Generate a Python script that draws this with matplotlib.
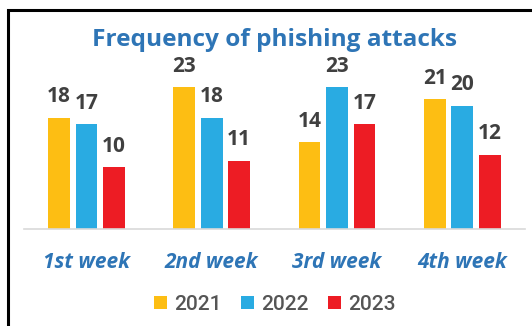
import matplotlib
matplotlib.use("Agg")
import matplotlib.pyplot as plt
from matplotlib.patches import Rectangle
import numpy as np

categories = ["1st week", "2nd week", "3rd week", "4th week"]
series_names = ["2021", "2022", "2023"]
v2021 = [18, 23, 14, 21]
v2022 = [17, 18, 23, 20]
v2023 = [10, 11, 17, 12]
values = [v2021, v2022, v2023]
colors = ["#FDBE13", "#29ABE2", "#ED1C24"]

W, H = 532, 326
fig = plt.figure(figsize=(W / 100, H / 100), dpi=100)
fig.patch.set_facecolor("white")

# outer frame (clipped on right and bottom)
fig.patches.append(Rectangle((7.5 / W, -0.1), 1.2, (H - 9.5) / H + 0.1,
                             transform=fig.transFigure, fill=False,
                             edgecolor="black", linewidth=2.2))

left, right = 23.7 / W, 525 / W
bottom = (H - 228.5) / H
top = (H - 60) / H
ax = fig.add_axes([left, bottom, right - left, top - bottom])
ax.set_xlim(-0.5, 3.5)
ax.set_ylim(0, 168.5 / 6.15)

x = np.arange(len(categories))
step = 0.22
width = 0.173
for i, (vals, c) in enumerate(zip(values, colors)):
    bars = ax.bar(x + (i - 1) * step, vals, width=width, color=c, label=series_names[i])
    for b, v in zip(bars, vals):
        ax.annotate(str(v), (b.get_x() + b.get_width() / 2, v), xytext=(0, 7.5),
                    textcoords="offset points", ha="center", va="bottom",
                    fontsize=15, fontweight="bold", color="#404040",
                    family="Open Sans")

for s in ["top", "right", "left"]:
    ax.spines[s].set_visible(False)
ax.spines["bottom"].set_color("#D9D9D9")
ax.spines["bottom"].set_linewidth(1.2)
ax.set_yticks([])
ax.set_xticks(x)
ax.set_xticklabels(categories, fontsize=15, fontweight="bold", style="italic",
                   color="#2E75B6", family="Open Sans")
ax.tick_params(axis="x", length=0, pad=17)

fig.text(274 / W, 1 - 40 / H, "Frequency of phishing attacks", ha="center", va="center",
         fontsize=17.6, fontweight="bold", color="#2E75B6", family="Open Sans")

leg = fig.legend(loc="center", bbox_to_anchor=(275 / W, 1 - 304 / H), ncol=3,
                 frameon=False, prop={"family": "Roboto", "size": 15, "weight": "medium"},
                 handlelength=0.6, handleheight=0.6, handletextpad=0.35,
                 columnspacing=0.95, labelcolor="#555555")

fig.savefig("out.png", dpi=100, facecolor="white")
